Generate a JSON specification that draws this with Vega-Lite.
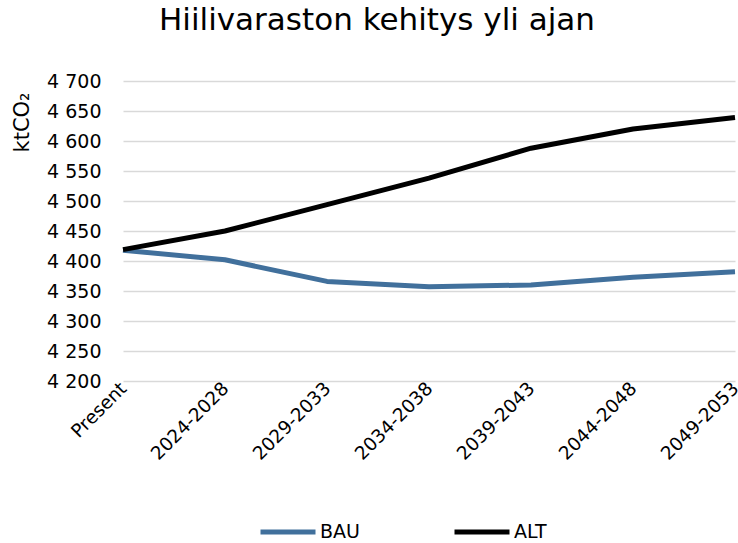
{
  "$schema": "https://vega.github.io/schema/vega-lite/v6.json",
  "autosize": "none",
  "width": 612,
  "height": 300,
  "padding": {"left": 123, "top": 81, "right": 3, "bottom": 162},
  "background": "white",
  "title": {
    "text": "Hiilivaraston kehitys yli ajan",
    "font": "DejaVu Sans",
    "fontSize": 31,
    "fontWeight": "normal",
    "color": "#000000",
    "anchor": "middle",
    "dx": -52,
    "offset": 35
  },
  "data": {
    "values": [
      {"period": "Present", "series": "BAU", "value": 4418},
      {"period": "2024-2028", "series": "BAU", "value": 4402},
      {"period": "2029-2033", "series": "BAU", "value": 4366},
      {"period": "2034-2038", "series": "BAU", "value": 4357},
      {"period": "2039-2043", "series": "BAU", "value": 4360},
      {"period": "2044-2048", "series": "BAU", "value": 4373},
      {"period": "2049-2053", "series": "BAU", "value": 4382},
      {"period": "Present", "series": "ALT", "value": 4419},
      {"period": "2024-2028", "series": "ALT", "value": 4450},
      {"period": "2029-2033", "series": "ALT", "value": 4494},
      {"period": "2034-2038", "series": "ALT", "value": 4538},
      {"period": "2039-2043", "series": "ALT", "value": 4588},
      {"period": "2044-2048", "series": "ALT", "value": 4620},
      {"period": "2049-2053", "series": "ALT", "value": 4639}
    ]
  },
  "mark": {"type": "line", "strokeWidth": 5, "strokeCap": "butt", "strokeJoin": "round"},
  "encoding": {
    "x": {
      "field": "period",
      "type": "ordinal",
      "sort": null,
      "scale": {"type": "point", "padding": 0},
      "axis": {
        "title": null,
        "labelAngle": -45,
        "labelAlign": "right",
        "labelBaseline": "middle",
        "labelFont": "DejaVu Sans",
        "labelFontSize": 18.5,
        "labelColor": "#000000",
        "labelPadding": 4,
        "labelDx": -10,
        "labelOverlap": false,
        "labelBound": false,
        "domain": false,
        "ticks": false,
        "grid": false
      }
    },
    "y": {
      "field": "value",
      "type": "quantitative",
      "scale": {"domain": [4200, 4700], "nice": false, "zero": false},
      "axis": {
        "values": [4200, 4250, 4300, 4350, 4400, 4450, 4500, 4550, 4600, 4650, 4700],
        "labelExpr": "replace(format(datum.value, ','), ',', ' ')",
        "labelFont": "DejaVu Sans",
        "labelFontSize": 19,
        "labelColor": "#000000",
        "labelPadding": 22,
        "domain": false,
        "ticks": false,
        "grid": true,
        "gridColor": "#d9d9d9",
        "gridWidth": 1.3,
        "title": "ktCO₂",
        "titleFont": "DejaVu Sans",
        "titleFontSize": 21,
        "titleFontWeight": "normal",
        "titleColor": "#000000",
        "titleAngle": -90,
        "titleAlign": "center",
        "titleBaseline": "middle",
        "titleX": -101,
        "titleY": 41
      }
    },
    "color": {
      "field": "series",
      "type": "nominal",
      "sort": ["BAU", "ALT"],
      "scale": {"domain": ["BAU", "ALT"], "range": ["#41709c", "#000000"]},
      "legend": {
        "title": null,
        "orient": "none",
        "direction": "horizontal",
        "legendX": 135,
        "legendY": 421,
        "symbolType": "stroke",
        "symbolSize": 3025,
        "symbolStrokeWidth": 5,
        "labelFont": "DejaVu Sans",
        "labelFontSize": 19,
        "labelColor": "#000000",
        "labelOffset": 2,
        "columnPadding": 84,
        "gridAlign": "all"
      }
    }
  },
  "config": {"view": {"stroke": null}}
}
